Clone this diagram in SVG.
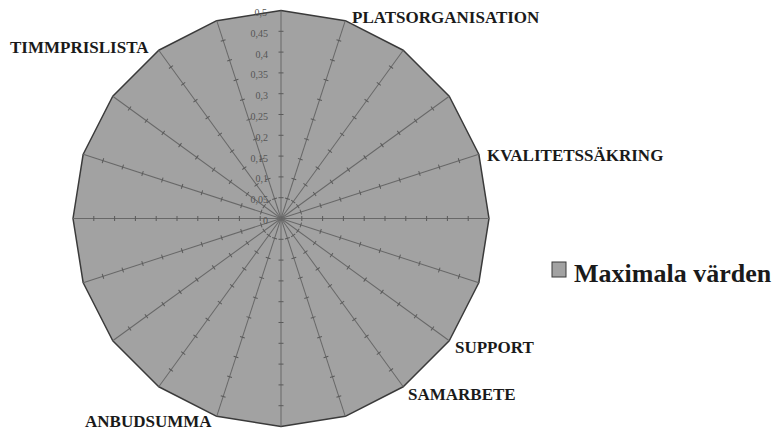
<svg xmlns="http://www.w3.org/2000/svg" xmlns:xlink="http://www.w3.org/1999/xlink" width="774" height="432" viewBox="0 0 774 432">
  <style>
    .area { fill: #a2a2a2; stroke: #3a3a3a; stroke-width: 1.5; stroke-linejoin: round; }
    .spoke { stroke: #686868; stroke-width: 1; fill: none; }
    .tick { stroke: #5a5a5a; stroke-width: 1; }
    .cat { font-family: "Liberation Serif", "Times New Roman", serif; font-weight: bold; font-size: 17px; fill: #1a1a1a; }
    .axis { font-family: "Liberation Serif", "Times New Roman", serif; font-size: 10px; fill: #555555; text-anchor: end; }
    .legend { font-family: "Liberation Serif", "Times New Roman", serif; font-weight: bold; font-size: 26px; fill: #1a1a1a; }
  </style>
  <defs>
    <!-- one radial axis, pointing up from the centre, with a tick every 0.05 -->
    <g id="axisLine">
      <line class="spoke" x1="0" y1="0" x2="0" y2="-208"/>
      <path class="tick" d="M-2.5,-20.8H2.5M-2.5,-41.6H2.5M-2.5,-62.4H2.5M-2.5,-83.2H2.5M-2.5,-104H2.5M-2.5,-124.8H2.5M-2.5,-145.6H2.5M-2.5,-166.4H2.5M-2.5,-187.2H2.5"/>
    </g>
  </defs>
  <rect width="774" height="432" fill="#ffffff"/>

  <!-- filled radar area (all 20 categories at the maximum 0.5) -->
  <g id="series">
    <polygon class="area" points="281,10.5 345.27,20.68 403.26,50.23 449.27,96.24 478.82,154.23 489,218.5 478.82,282.77 449.27,340.76 403.26,386.77 345.27,416.32 281,426.5 216.73,416.32 158.74,386.77 112.73,340.76 83.18,282.77 73,218.5 83.18,154.23 112.73,96.24 158.74,50.23 216.73,20.68"/>
  </g>

  <!-- radial axes -->
  <g id="connectors" transform="translate(281,218.5)">
    <use xlink:href="#axisLine" transform="rotate(0)"/>
    <use xlink:href="#axisLine" transform="rotate(18)"/>
    <use xlink:href="#axisLine" transform="rotate(36)"/>
    <use xlink:href="#axisLine" transform="rotate(54)"/>
    <use xlink:href="#axisLine" transform="rotate(72)"/>
    <use xlink:href="#axisLine" transform="rotate(90)"/>
    <use xlink:href="#axisLine" transform="rotate(108)"/>
    <use xlink:href="#axisLine" transform="rotate(126)"/>
    <use xlink:href="#axisLine" transform="rotate(144)"/>
    <use xlink:href="#axisLine" transform="rotate(162)"/>
    <use xlink:href="#axisLine" transform="rotate(180)"/>
    <use xlink:href="#axisLine" transform="rotate(198)"/>
    <use xlink:href="#axisLine" transform="rotate(216)"/>
    <use xlink:href="#axisLine" transform="rotate(234)"/>
    <use xlink:href="#axisLine" transform="rotate(252)"/>
    <use xlink:href="#axisLine" transform="rotate(270)"/>
    <use xlink:href="#axisLine" transform="rotate(288)"/>
    <use xlink:href="#axisLine" transform="rotate(306)"/>
    <use xlink:href="#axisLine" transform="rotate(324)"/>
    <use xlink:href="#axisLine" transform="rotate(342)"/>
  </g>

  <!-- value scale along the vertical axis -->
  <g id="scale">
    <text class="axis" x="267" y="16">0,5</text>
    <text class="axis" x="268" y="37">0,45</text>
    <text class="axis" x="268" y="58">0,4</text>
    <text class="axis" x="268" y="78">0,35</text>
    <text class="axis" x="268" y="99">0,3</text>
    <text class="axis" x="268" y="120">0,25</text>
    <text class="axis" x="268" y="141">0,2</text>
    <text class="axis" x="268" y="162">0,15</text>
    <text class="axis" x="268" y="182">0,1</text>
    <text class="axis" x="268" y="203">0,05</text>
    <text class="axis" x="268" y="224">0</text>
  </g>

  <!-- category labels -->
  <g id="platsorganisation"><text class="cat" x="352" y="23">PLATSORGANISATION</text></g>
  <g id="kvalitetssakring"><text class="cat" x="487" y="161">KVALITETSSÄKRING</text></g>
  <g id="support"><text class="cat" x="455" y="353">SUPPORT</text></g>
  <g id="samarbete"><text class="cat" x="408" y="400">SAMARBETE</text></g>
  <g id="anbudsumma"><text class="cat" x="85" y="427">ANBUDSUMMA</text></g>
  <g id="timmprislista"><text class="cat" x="10" y="53">TIMMPRISLISTA</text></g>

  <!-- legend -->
  <g id="legend">
    <rect x="552" y="262" width="14" height="15" fill="#a2a2a2" stroke="#3a3a3a" stroke-width="1"/>
    <text class="legend" x="574" y="282">Maximala värden</text>
  </g>
</svg>
